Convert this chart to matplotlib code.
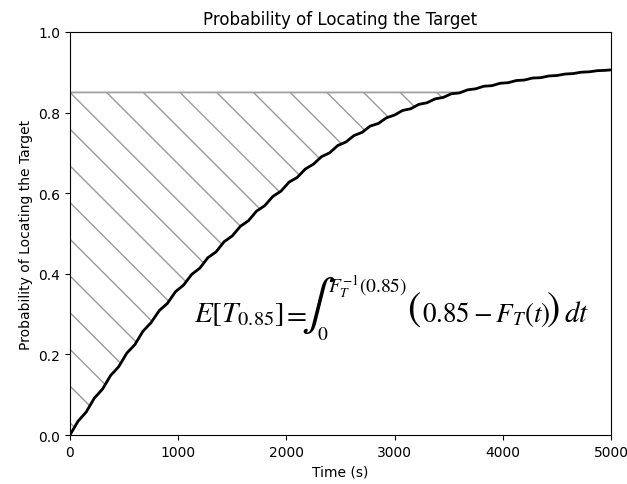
import matplotlib
matplotlib.use("Agg")
import matplotlib.pyplot as plt

# search time grid (s) and cumulative detection probability F_T(t)
time_s = list(range(0, 5000, 75)) + [5000]
prob_found = [0, .0345, .057, .0915, .1136, .1475, .1694, .2031, .2244, .2577,
              .279, .3087, .3264, .3556, .372, .3985, .414, .4401, .4544, .4797,
              .494, .5179, .5318, .5557, .569, .592, .605, .6275, .639, .66,
              .672, .6906, .7002, .7183, .727, .743, .751, .7665, .773, .787,
              .794, .8053, .8096, .8204, .8244, .834, .8376, .8467, .8488, .8564,
              .859, .8654, .8668, .8727, .8742, .8795, .8808, .8857, .8866, .8908,
              .892, .8956, .8968, .9002, .9012, .904, .9048, .906]
level = 0.85

plt.rcParams["mathtext.fontset"] = "stix"

W, H = 627, 485
fig = plt.figure(figsize=(W / 100, H / 100), dpi=100)
ax = fig.add_axes([0.1116, 0.101, 0.8628, 0.831])

# region between the level and the CDF, up to F_T^-1(level)
below = [p <= level for p in prob_found]
area = ax.fill_between(time_s, prob_found, level, where=below, interpolate=True,
                       facecolor="none", edgecolor="#a0a0a0", linewidth=1.3)

# diagonal hatching drawn by hand (wider spacing than the built-in hatch)
bb = ax.get_window_extent()
sec_per_px = 5000 / bb.width
p_per_px = 1.0 / bb.height
gap = 36.7
clip = area.get_paths()[0]
for k in range(-15, 20):
    x0 = k * gap * sec_per_px
    run = 600
    ln, = ax.plot([x0, x0 + run * sec_per_px], [level, level - run * p_per_px],
                  color="#9a9a9a", linewidth=1.0)
    ln.set_clip_path(clip, ax.transData)

ax.plot(time_s, prob_found, color="black", linewidth=2.0, solid_joinstyle="round")

ax.set_xlim(0, 5000)
ax.set_ylim(0, 1.0)
ax.set_title("Probability of Locating the Target")
ax.set_xlabel("Time (s)")
ax.set_ylabel("Probability of Locating the Target")


# formula, set piece by piece so the integral sign and brackets can be large
def put(x, y, s, size, ha="left", va="baseline"):
    fig.text(x / W, 1 - y / H, s, fontsize=size, ha=ha, va=va)


base = 322
put(194, base, r"$E[T_{0.85}]$", 21)
put(294, base, r"$=$", 21, ha="center")
put(318, 306, r"$\int$", 36, ha="center", va="center")
put(328, 293, r"$F_T^{-1}(0.85)$", 14)
put(317, 340, r"$0$", 14)
put(414, 309, r"$($", 29, ha="center", va="center")
put(422, base, r"$0.85 - F_T(t)$", 19.5)
put(553, 309, r"$)$", 29, ha="center", va="center")
put(564, base, r"$dt$", 21)

fig.savefig("out.png", dpi=100)
